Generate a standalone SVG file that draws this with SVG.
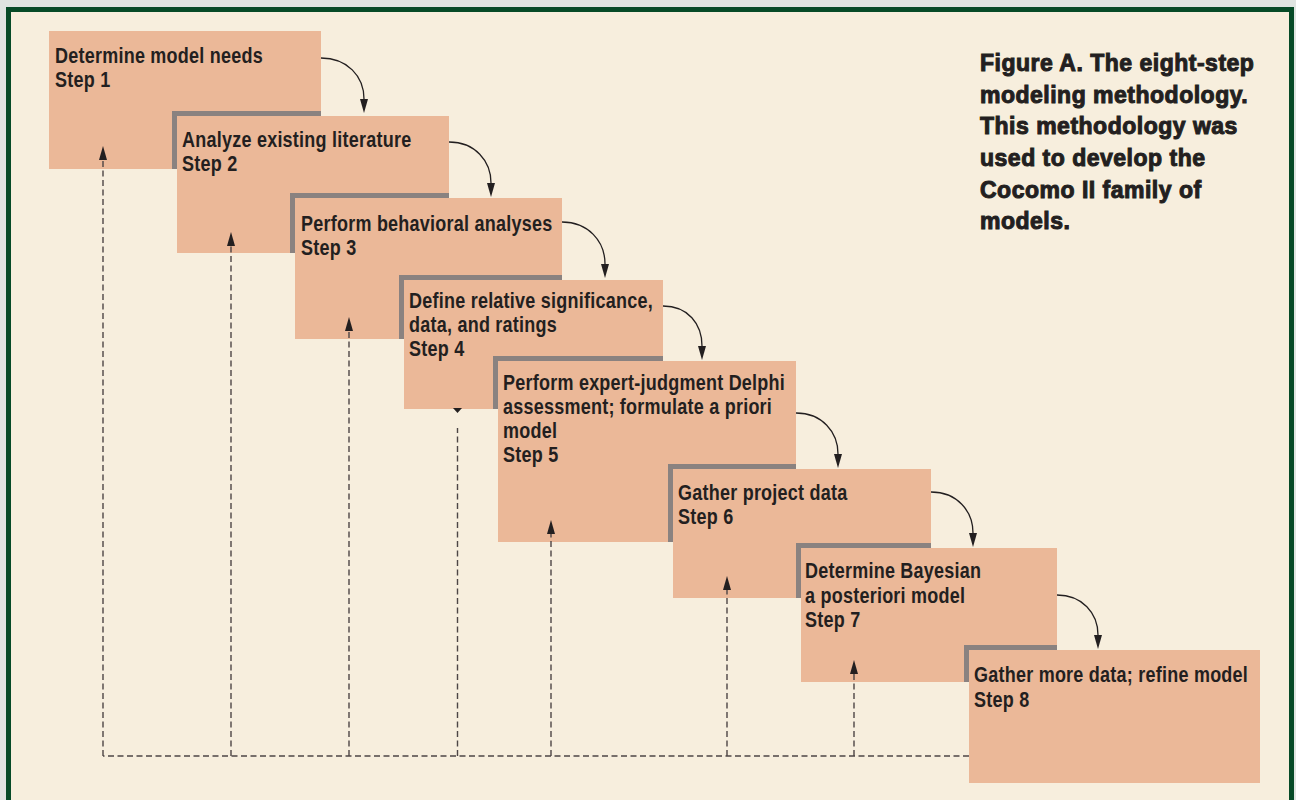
<svg xmlns="http://www.w3.org/2000/svg" width="1296" height="800" viewBox="0 0 1296 800">
<defs>
<marker id="ah" markerUnits="userSpaceOnUse" markerWidth="16" markerHeight="10" refX="0" refY="0" viewBox="0 -5 16 10" orient="auto" overflow="visible">
<path d="M0,-4 L14,0 L0,4 z" fill="#231f20" stroke="none"/>
</marker>
<style>
.box{fill:#ebb898}
.sh{fill:#8a8280}
.t{font-family:"Liberation Sans",Arial,sans-serif;font-weight:bold;font-size:22.5px;fill:#231f20;letter-spacing:0.3px}
.cap{font-family:"Liberation Sans",Arial,sans-serif;font-weight:bold;font-size:23px;letter-spacing:0.5px;fill:#231f20;stroke:#231f20;stroke-width:1}
.cur{fill:none;stroke:#231f20;stroke-width:1.3;marker-end:url(#ah)}
.fb{fill:none;stroke:#4d4545;stroke-width:1.4;stroke-dasharray:6 3.5}
.fba{fill:none;stroke:#4d4545;stroke-width:1.4;stroke-dasharray:6 3.5;marker-end:url(#ah)}
</style>
</defs>
<rect x="0" y="0" width="1296" height="800" fill="#dfe4e1"/>
<rect x="6" y="7" width="1288" height="800" fill="#064a27"/>
<rect x="11" y="12" width="1278" height="800" fill="#f7eedd"/>

<g id="caption">
<text class="cap" x="980" y="71">Figure A. The eight-step</text>
<text class="cap" x="980" y="102.7">modeling methodology.</text>
<text class="cap" x="980" y="134.4">This methodology was</text>
<text class="cap" x="980" y="166">used to develop the</text>
<text class="cap" x="980" y="197.7">Cocomo II family of</text>
<text class="cap" x="980" y="229.4">models.</text>
</g>

<g id="step1">
<rect class="box" x="49" y="31" width="272" height="138"/>
<g transform="translate(55,0) scale(0.8,1)">
<text class="t" x="0" y="63">Determine model needs</text>
<text class="t" x="0" y="87">Step 1</text>
</g>
</g>
<g id="step2">
<rect class="sh" x="172" y="111" width="149" height="58"/>
<rect class="box" x="177" y="116" width="272" height="137"/>
<g transform="translate(182,0) scale(0.8,1)">
<text class="t" x="0" y="147">Analyze existing literature</text>
<text class="t" x="0" y="171">Step 2</text>
</g>
</g>
<g id="step3">
<rect class="sh" x="290" y="193" width="159" height="60"/>
<rect class="box" x="295" y="198" width="267" height="141"/>
<g transform="translate(301,0) scale(0.8,1)">
<text class="t" x="0" y="231">Perform behavioral analyses</text>
<text class="t" x="0" y="255">Step 3</text>
</g>
</g>
<g id="step4">
<rect class="sh" x="399" y="275" width="163" height="64"/>
<rect class="box" x="404" y="280" width="259" height="129"/>
<g transform="translate(409,0) scale(0.8,1)">
<text class="t" x="0" y="308">Define relative significance,</text>
<text class="t" x="0" y="332">data, and ratings</text>
<text class="t" x="0" y="356">Step 4</text>
</g>
</g>
<g id="step5">
<rect class="sh" x="493" y="356" width="170" height="53"/>
<rect class="box" x="498" y="361" width="298" height="181"/>
<g transform="translate(503,0) scale(0.8,1)">
<text class="t" x="0" y="390">Perform expert-judgment Delphi</text>
<text class="t" x="0" y="414">assessment; formulate a priori</text>
<text class="t" x="0" y="438">model</text>
<text class="t" x="0" y="462">Step 5</text>
</g>
</g>
<g id="step6">
<rect class="sh" x="668" y="464" width="128" height="78"/>
<rect class="box" x="673" y="469" width="258" height="129"/>
<g transform="translate(678,0) scale(0.8,1)">
<text class="t" x="0" y="500">Gather project data</text>
<text class="t" x="0" y="524">Step 6</text>
</g>
</g>
<g id="step7">
<rect class="sh" x="796" y="543" width="135" height="55"/>
<rect class="box" x="801" y="548" width="256" height="134"/>
<g transform="translate(805,0) scale(0.8,1)">
<text class="t" x="0" y="578">Determine Bayesian</text>
<text class="t" x="0" y="603">a posteriori model</text>
<text class="t" x="0" y="627">Step 7</text>
</g>
</g>
<g id="step8">
<rect class="sh" x="964" y="645" width="93" height="37"/>
<rect class="box" x="969" y="650" width="291" height="133"/>
<g transform="translate(974,0) scale(0.8,1)">
<text class="t" x="0" y="682">Gather more data; refine model</text>
<text class="t" x="0" y="707">Step 8</text>
</g>
</g>

<g id="connectors">
<path class="cur" d="M321,58 C347,58 364,76 364,99"/>
<path class="cur" d="M449,142 C475,142 491,161 491,183"/>
<path class="cur" d="M562,222 C588,222 605,241 605,264"/>
<path class="cur" d="M663,306 C688,306 702,324 702,346"/>
<path class="cur" d="M796,413 C822,413 838,432 838,454"/>
<path class="cur" d="M931,492 C957,492 973,511 973,533"/>
<path class="cur" d="M1057,595 C1082,595 1098,613 1098,635"/>

<path class="fb" d="M969,756 H103"/>
<path class="fba" d="M103,756 V160"/>
<path class="fba" d="M231,756 V246"/>
<path class="fba" d="M349,756 V331"/>
<path class="fb" d="M457.5,756 V428"/>
<path d="M453,408 L462,408 L457.5,413 z" fill="#231f20"/>
<path class="fba" d="M551,756 V534"/>
<path class="fba" d="M727,756 V590"/>
<path class="fba" d="M854,756 V674"/>
</g>
</svg>
